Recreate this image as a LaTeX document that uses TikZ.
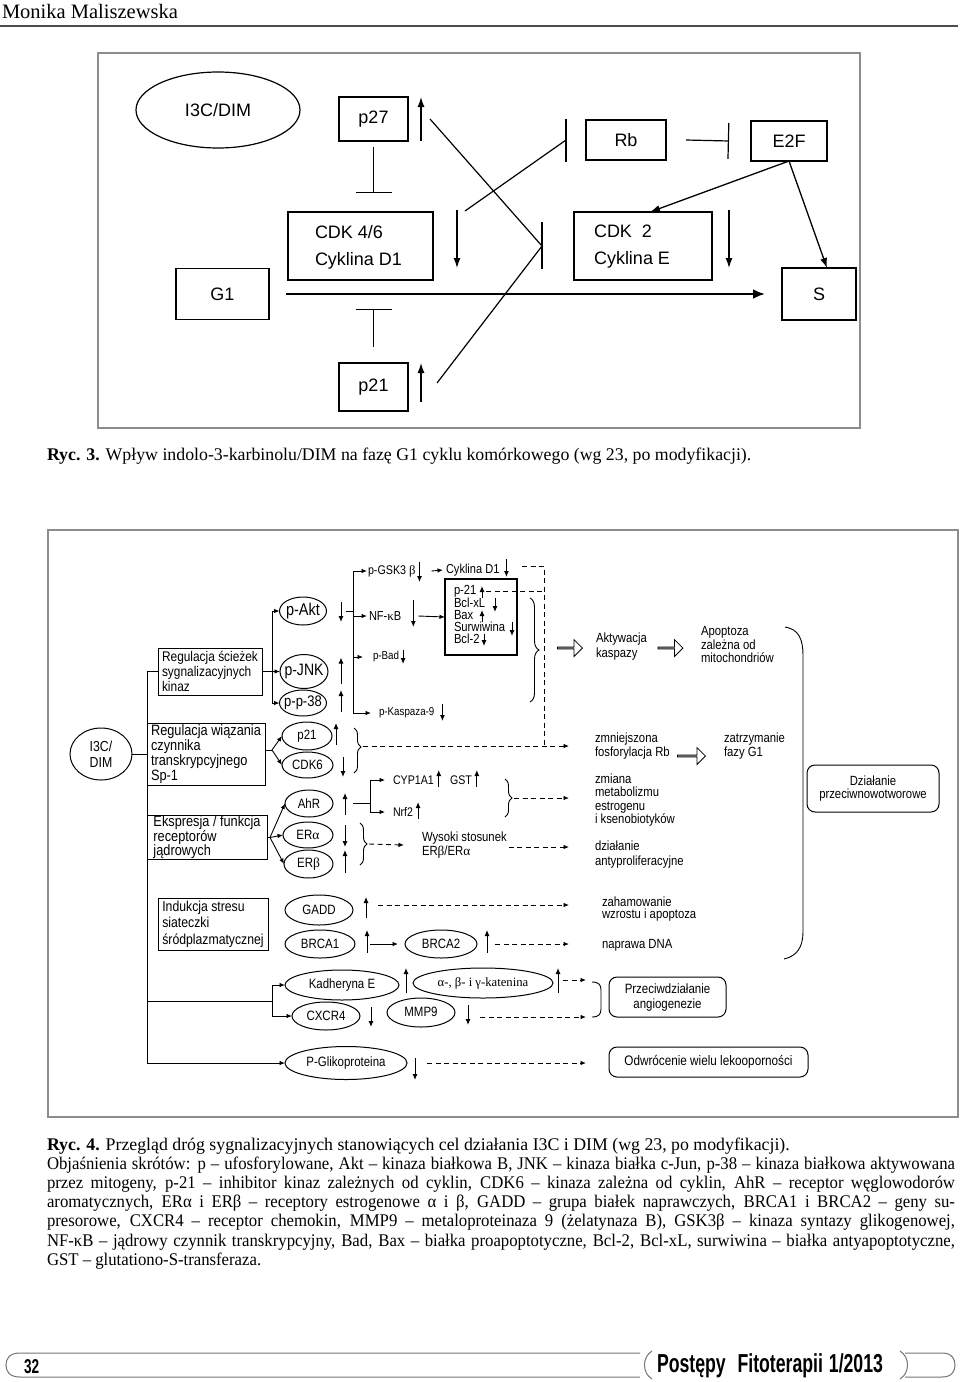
\documentclass[tikz,border=0pt]{standalone}
\usepackage{fontspec}
\setmainfont{Liberation Sans}
\newfontfamily\capf{Liberation Serif}
\newfontfamily\capn[FakeStretch=0.94]{Liberation Serif}
\newfontfamily\nsf[FakeStretch=0.85]{Liberation Sans}
\newfontfamily\footf[FakeStretch=0.68]{Liberation Sans Bold}
\usetikzlibrary{arrows.meta,shapes.geometric,shapes.arrows,decorations.pathreplacing}
\newcommand{\mz}[1]{\makebox[0pt]{#1}}
\newcommand{\fsz}[2]{\fontsize{#1}{#2}\selectfont}
\newcommand{\gr}[1]{{\capf #1}}
\newcommand{\jline}[1]{\makebox[908pt][s]{#1}}
\begin{document}
\begin{tikzpicture}[x=1pt,y=-1pt,
  every node/.style={inner sep=0pt,outer sep=0pt},
  frame/.style={draw=black!45,line width=1.6pt},
  tbox/.style={draw,line width=1.2pt,font=\fsz{18}{27}},
  tln/.style={line width=1.2pt},
  tarr/.style={line width=1.3pt,-{Latex[length=10pt,width=7pt]}},
  tinh/.style={line width=1.2pt,-{Bar[width=36pt]}},
  ln/.style={line width=0.9pt},
  sarr/.style={line width=0.9pt,-{Latex[length=5.5pt,width=4.5pt]}},
  ind/.style={line width=1pt,-{Latex[length=6pt,width=5pt]}},
  dsh/.style={line width=0.9pt,dash pattern=on 5pt off 3.5pt},
  darr/.style={dsh,-{Latex[length=5.5pt,width=4.5pt]}},
  ell/.style={ellipse,draw,line width=1pt,font=\nsf\fsz{13.5}{15}},
  lbox/.style={draw,line width=1pt,align=left,font=\nsf\fsz{15}{15}},
  rbox/.style={draw,line width=1pt,rounded corners=8pt,align=center,font=\nsf\fsz{13.3}{13}},
  txt/.style={align=left,font=\nsf\fsz{13.3}{13}},
  hol/.style={single arrow,draw,line width=0.8pt,minimum height=25pt,minimum width=17pt,single arrow head extend=3.5pt,inner sep=0pt},
  br/.style={decorate,line width=0.9pt},
  foot/.style={draw=black!55,line width=1pt},
  captxt/.style={anchor=base west,font=\capn\fsz{17.8}{19}},
  capone/.style={anchor=base west,font=\capf\fsz{17.8}{19}}
]
\useasboundingbox (0,0) rectangle (960,1382);

% ---------- header ----------
\node[anchor=base west,font=\capf\fsz{20.5}{22}] (hdr) at (2,18) {Monika Maliszewska};
\draw[draw=black!70,line width=2pt] (0,26) -- (958,26);

% ---------- figure 3 ----------
\draw[frame] (98,53) rectangle (860,428);
\node[ellipse,draw,line width=1.2pt,minimum width=164pt,minimum height=76pt,font=\fsz{18}{20}] (i3c) at (218,110) {I3C/DIM};
\node[tbox,minimum width=69pt,minimum height=44pt] (p27) at (373.5,119) {p27};
\node[tbox,minimum width=80pt,minimum height=40pt] (rb) at (626,140) {Rb};
\node[tbox,minimum width=76pt,minimum height=40pt] (e2f) at (789,141) {E2F};
\node[tbox,minimum width=145pt,minimum height=68pt] (cdk46) at (360.5,246) {};
\node[anchor=west,align=left,font=\fsz{18}{27}] (cdk46t) at (315,247) {CDK 4/6\\Cyklina D1};
\node[tbox,minimum width=138pt,minimum height=68pt] (cdk2) at (643,246) {};
\node[anchor=west,align=left,font=\fsz{18}{27}] (cdk2t) at (594,247) {CDK\ \ 2\\Cyklina E};
\node[tbox,minimum width=93pt,minimum height=51pt] (g1) at (222.5,294) {G1};
\node[tbox,minimum width=74pt,minimum height=52pt] (s) at (819,294) {S};
\node[tbox,minimum width=69pt,minimum height=48pt] (p21) at (373.5,387) {p21};

\draw[tarr] ([xshift=13pt]p27.south east) -- ([xshift=13pt]p27.north east);
\draw[tinh] ([yshift=-6pt]p27.south) -- ([yshift=-52pt]p27.south);
\draw[tinh] ([yshift=16pt]p21.north) -- ([yshift=54pt]p21.north);
\draw[tinh] ([xshift=20pt]rb.east) -- ([xshift=-22pt]e2f.west);
\draw[tln] ([xshift=-20pt,yshift=1pt]rb.north west) -- ([xshift=-20pt,yshift=-2pt]rb.south west);
\coordinate (rbbar) at ([xshift=-20pt]rb.west);
\draw[tln] ([xshift=32pt,yshift=1pt]cdk46.north east) -- (rbbar);
\draw[tarr] ([xshift=24pt,yshift=2pt]cdk46.north east) -- ([xshift=24pt,yshift=12pt]cdk46.south east);
\draw[tarr] ([xshift=17pt,yshift=2pt]cdk2.north east) -- ([xshift=17pt,yshift=12pt]cdk2.south east);
\coordinate (conv) at ([xshift=-32pt]cdk2.west);
\draw[tln] ([yshift=24pt]conv) -- ([yshift=-23pt]conv);
\draw[tln] ([xshift=22pt]p27.east) -- (conv);
\draw[tln] ([xshift=29pt,yshift=4pt]p21.east) -- (conv);
\draw[tarr] (e2f.south) -- ([xshift=7pt]cdk2.north);
\draw[tarr] (e2f.south) -- ([xshift=8pt]s.north);
\draw[line width=2.4pt,-{Latex[length=12pt,width=10pt]}] ([xshift=17pt]g1.east) -- ([xshift=-17pt]s.west);
\draw[tarr] ([xshift=13pt,yshift=9pt]p21.south east) -- ([xshift=13pt]p21.north east);

\node[capone] (cap3) at (47,460) {\textbf{Ryc. 3.} Wpływ indolo-3-karbinolu/DIM na fazę G1 cyklu komórkowego (wg 23, po modyfikacji).};

% ---------- figure 4 ----------
\draw[frame,line width=1.2pt] (48,530) rectangle (958,1117);

% upper group
\node[lbox,minimum width=104pt,minimum height=47pt,font=\nsf\fsz{14}{15}] (rsk) at (210,671.5) {Regulacja ścieżek\\sygnalizacyjnych\\kinaz};
\node[ell,minimum width=47pt,minimum height=28pt,font=\nsf\fsz{17}{16}] (pakt) at (303,611) {\mz{p-Akt}};
\node[ell,minimum width=48pt,minimum height=34pt,font=\nsf\fsz{16.5}{16}] (pjnk) at (304,671.5) {\mz{p-JNK}};
\node[ell,minimum width=47pt,minimum height=26pt,font=\nsf\fsz{15.3}{16}] (pp38) at (303,703) {\mz{p-p-38}};
\coordinate (sp1) at (272,671.5);
\draw[ln] (rsk.east) -- (sp1);
\draw[sarr] (sp1) |- (pakt.west);
\draw[sarr] (sp1) -- (pjnk.west);
\draw[sarr] (sp1) |- (pp38.west);
\draw[ind] ([xshift=14.5pt,yshift=9pt]pakt.east) -- ([xshift=14.5pt,yshift=-11pt]pakt.east);
\draw[ind] ([xshift=13pt,yshift=-12pt]pjnk.east) -- ([xshift=13pt,yshift=14pt]pjnk.east);
\draw[ind] ([xshift=14.5pt,yshift=-9pt]pp38.east) -- ([xshift=14.5pt,yshift=13pt]pp38.east);

\node[txt,anchor=west,font=\nsf\fsz{12.6}{13}] (gsk) at (368,571) {p-GSK3 \gr{β}};
\node[txt,anchor=west,font=\nsf\fsz{13}{13}] (cyc) at (446,570) {Cyklina D1};
\node[txt,anchor=west,font=\nsf\fsz{13}{13}] (nfkb) at (369,616) {NF-\gr{κ}B};
\node[txt,anchor=west,font=\nsf\fsz{11.5}{12}] (pbad) at (373,657) {p-Bad};
\node[txt,anchor=west,font=\nsf\fsz{11.5}{12}] (pkasp) at (379,713) {p-Kaspaza-9};
\coordinate (ak) at (353,611);
\draw[ln] ([xshift=19pt]pakt.east) -- (ak);
\draw[sarr] (ak) |- ([xshift=-1pt]gsk.west);
\draw[sarr] (ak) |- ([xshift=-2pt]nfkb.west);
\draw[sarr] (ak) |- ([xshift=-10pt]pbad.west);
\draw[sarr] (ak) |- ([xshift=-8pt]pkasp.west);
\draw[ind] ([xshift=4pt,yshift=9pt]gsk.east) -- ([xshift=4pt,yshift=-11pt]gsk.east);
\draw[sarr] ([xshift=16pt]gsk.east) -- ([xshift=-3pt]cyc.west);
\draw[ind] ([xshift=7pt,yshift=11pt]cyc.east) -- ([xshift=7pt,yshift=-7pt]cyc.east);

\node[draw,line width=1.1pt,minimum width=72pt,minimum height=76pt] (bcl) at (481,617) {};
\node[txt,anchor=north west,font=\nsf\fsz{13.2}{12}] (bclt) at (454,585) {p-21\\Bcl-xL\\Bax\\Surwiwina\\Bcl-2};
\draw[ind] ([xshift=37pt,yshift=-19pt]bcl.north west) -- ([xshift=37pt,yshift=-7pt]bcl.north west);
\draw[ind] ([xshift=50pt,yshift=-19pt]bcl.north west) -- ([xshift=50pt,yshift=-33pt]bcl.north west);
\draw[ind] ([xshift=37pt,yshift=-43pt]bcl.north west) -- ([xshift=37pt,yshift=-31pt]bcl.north west);
\draw[ind] ([xshift=67pt,yshift=-43pt]bcl.north west) -- ([xshift=67pt,yshift=-57pt]bcl.north west);
\draw[ind] ([xshift=39pt,yshift=-55pt]bcl.north west) -- ([xshift=39pt,yshift=-67pt]bcl.north west);
\draw[ind] ([xshift=12pt,yshift=16pt]nfkb.east) -- ([xshift=12pt,yshift=-11pt]nfkb.east);
\draw[sarr] ([xshift=17pt]nfkb.east) -- (bcl.west);
\draw[ind] ([xshift=4pt,yshift=7pt]pbad.east) -- ([xshift=4pt,yshift=-7pt]pbad.east);
\draw[ind] ([xshift=8pt,yshift=9pt]pkasp.east) -- ([xshift=8pt,yshift=-8pt]pkasp.east);

\draw[br,decoration={brace,amplitude=9pt}] (530,598) -- (530,702);
\coordinate (dv) at (544,746);
\coordinate (dtop) at (522,566);
\draw[dsh] (dtop) -| (dv);
\coordinate (p21d) at ([xshift=41pt,yshift=-12pt]bcl.north west);
\draw[dsh] (p21d) -- (p21d -| dv);

\node[hol] (h1) at (569.5,648) {};
\node[hol] (h2) at (670,648) {};
\node[hol,minimum height=28pt] (h3) at (691,756) {};
\node[txt,anchor=west,font=\nsf\fsz{13.3}{15}] (akt) at (596,646.5) {Aktywacja\\kaspazy};
\node[txt,anchor=west,font=\nsf\fsz{13.3}{13.5}] (apo) at (701,644.5) {Apoptoza\\zależna od\\mitochondriów};
\draw[ln] (785,627) .. controls (799,629) and (803,640) .. (803,655) -- (803,932) .. controls (803,947) and (797,956) .. (784,959);

% middle group
\node[ellipse,draw,line width=1pt,minimum width=62pt,minimum height=52pt,align=center,font=\nsf\fsz{14.5}{16}] (i3c2) at (101,754) {I3C/\\DIM};
\coordinate (sp0) at (147,671.5);
\draw[ln] (sp0) -- (rsk.west);
\draw[ln] (i3c2.east) -- (i3c2.east -| sp0);
\node[lbox,minimum width=118pt,minimum height=62pt] (rw) at (206,754) {Regulacja wiązania\\czynnika\\transkrypcyjnego\\Sp-1};
\node[lbox,minimum width=120pt,minimum height=41pt,font=\nsf\fsz{15}{14}] (ex) at (207,837.5) {Ekspresja / funkcja\\receptorów\\jądrowych};

\node[ell,minimum width=50pt,minimum height=28pt] (p21e) at (307,736) {\mz{p21}};
\node[ell,minimum width=51pt,minimum height=26pt] (cdk6e) at (307.5,765) {\mz{CDK6}};
\coordinate (f1) at ([xshift=7pt,yshift=4pt]rw.east);
\draw[ln] ([yshift=4pt]rw.east) -- (f1);
\draw[sarr] (f1) -- (p21e.west);
\draw[sarr] (f1) -- (cdk6e.west);
\draw[ind] ([xshift=4pt,yshift=-9pt]p21e.east) -- ([xshift=4pt,yshift=13pt]p21e.east);
\draw[ind] ([xshift=10pt,yshift=8pt]cdk6e.east) -- ([xshift=10pt,yshift=-12pt]cdk6e.east);
\draw[br,decoration={brace,amplitude=7pt,aspect=0.42}] (354,728) -- (354,773);

\node[txt,anchor=west,font=\nsf\fsz{13.3}{14}] (zmn) at (595,746) {zmniejszona\\fosforylacja Rb};
\node[txt,anchor=west,font=\nsf\fsz{13.3}{14}] (zat) at (724,746) {zatrzymanie\\fazy G1};
\coordinate (b2t) at (363,746);
\draw[darr] (b2t) -- ([xshift=-26pt]zmn.west);

\node[ell,minimum width=48pt,minimum height=27pt] (ahr) at (309,803.5) {\mz{AhR}};
\node[ell,minimum width=50pt,minimum height=26pt] (era) at (308,835) {\mz{ER\gr{α}}};
\node[ell,minimum width=49pt,minimum height=28pt] (erb) at (308.5,864) {\mz{ER\gr{β}}};
\coordinate (f2) at ([xshift=3pt]ex.east);
\draw[ln] (ex.east) -- (f2);
\draw[sarr] (f2) -- (ahr.west);
\draw[sarr] (f2) -- (era.west);
\draw[sarr] (f2) -- (erb.west);
\draw[ind] ([xshift=12pt,yshift=-11.5pt]ahr.east) -- ([xshift=12pt,yshift=10.5pt]ahr.east);
\draw[ind] ([xshift=12pt,yshift=10pt]era.east) -- ([xshift=12pt,yshift=-12pt]era.east);
\draw[ind] ([xshift=12pt,yshift=-9pt]erb.east) -- ([xshift=12pt,yshift=14pt]erb.east);

\node[txt,anchor=west,font=\nsf\fsz{12.5}{13}] (cyp) at (393,780) {CYP1A1};
\node[txt,anchor=west,font=\nsf\fsz{12.5}{13}] (gst) at (450,780) {GST};
\node[txt,anchor=west,font=\nsf\fsz{12.5}{13}] (nrf) at (393,812) {Nrf2};
\coordinate (af) at (370,803.5);
\draw[ln] ([xshift=20pt]ahr.east) -- (af);
\draw[sarr] (af) |- ([xshift=-8pt]cyp.west);
\draw[sarr] (af) |- ([xshift=-8pt]nrf.west);
\draw[ind] ([xshift=5pt,yshift=-7pt]cyp.east) -- ([xshift=5pt,yshift=10pt]cyp.east);
\draw[ind] ([xshift=5pt,yshift=-7pt]gst.east) -- ([xshift=5pt,yshift=10pt]gst.east);
\draw[ind] ([xshift=5pt,yshift=-7pt]nrf.east) -- ([xshift=5pt,yshift=10pt]nrf.east);
\draw[br,decoration={brace,amplitude=7pt}] (505,779) -- (505,817);
\node[txt,anchor=west,font=\nsf\fsz{13.3}{13.3}] (zmi) at (595,800) {zmiana\\metabolizmu\\estrogenu\\i ksenobiotyków};
\coordinate (xr) at (569,0);
\coordinate (b3t) at (514,798);
\draw[darr] (b3t) -- (b3t -| xr);

\draw[br,decoration={brace,amplitude=7pt}] (360,823) -- (360,865);
\node[txt,anchor=west,font=\nsf\fsz{13.3}{14}] (wys) at (422,845) {Wysoki stosunek\\ER\gr{β}/ER\gr{α}};
\coordinate (b4t) at (369,844);
\draw[darr] (b4t) -- ([xshift=-18pt]wys.west);
\node[txt,anchor=west,font=\nsf\fsz{13.3}{15}] (dzi) at (595,854.5) {działanie\\antyproliferacyjne};
\coordinate (wd) at ([xshift=2pt,yshift=-2pt]wys.east);
\draw[darr] (wd) -- (wd -| xr);

\node[rbox,minimum width=132pt,minimum height=47pt] (dp) at (873,788.5) {Działanie\\przeciwnowotworowe};

% lower group
\node[lbox,minimum width=110pt,minimum height=52pt,font=\nsf\fsz{14.4}{16.7}] (ind) at (213,924) {Indukcja stresu\\siateczki\\śródplazmatycznej};
\node[ell,minimum width=68pt,minimum height=30pt] (gadd) at (319,910) {\mz{GADD}};
\node[ell,minimum width=70pt,minimum height=28pt] (brca1) at (320,944) {\mz{BRCA1}};
\node[ell,minimum width=72pt,minimum height=28pt] (brca2) at (441,944) {\mz{BRCA2}};
\node[ell,minimum width=114pt,minimum height=30pt] (kad) at (342,985) {\mz{Kadheryna E}};
\node[ell,minimum width=140pt,minimum height=30pt,font=\capf\fsz{12.7}{13}] (kat) at (483,983) {\mz{α-, β- i γ-katenina}};
\node[ell,minimum width=68pt,minimum height=28pt] (cxcr) at (326,1016) {\mz{CXCR4}};
\node[ell,minimum width=68pt,minimum height=29pt] (mmp) at (421,1012.5) {\mz{\raisebox{2pt}{MMP9}}};
\node[ell,minimum width=122pt,minimum height=33pt] (pgl) at (346,1063) {\mz{P-Glikoproteina}};

\draw[ind] ([xshift=13pt,yshift=-8pt]gadd.east) -- ([xshift=13pt,yshift=13pt]gadd.east);
\draw[ind] ([xshift=12pt,yshift=-9pt]brca1.east) -- ([xshift=12pt,yshift=14pt]brca1.east);
\draw[ind] ([xshift=10pt,yshift=-9pt]brca2.east) -- ([xshift=10pt,yshift=14pt]brca2.east);
\draw[ind] ([xshift=7pt,yshift=-8pt]kad.east) -- ([xshift=7pt,yshift=17pt]kad.east);
\draw[ind] ([xshift=5pt,yshift=-10pt]kat.east) -- ([xshift=5pt,yshift=15pt]kat.east);
\draw[ind] ([xshift=11pt,yshift=9pt]cxcr.east) -- ([xshift=11pt,yshift=-11pt]cxcr.east);
\draw[ind] ([xshift=13pt,yshift=7.5pt]mmp.east) -- ([xshift=13pt,yshift=-12.5pt]mmp.east);
\draw[ind] ([xshift=8pt,yshift=5pt]pgl.east) -- ([xshift=8pt,yshift=-17pt]pgl.east);
\draw[sarr] ([xshift=15pt]brca1.east) -- ([xshift=-7pt]brca2.west);

\node[txt,anchor=west,font=\nsf\fsz{13.3}{12.5}] (zah) at (602,909) {zahamowanie\\wzrostu i apoptoza};
\node[txt,anchor=west] (nap) at (602,945) {naprawa DNA};
\node[rbox,minimum width=117pt,minimum height=40pt,font=\nsf\fsz{13.5}{15}] (pa) at (667.5,997) {Przeciwdziałanie\\angiogenezie};
\node[rbox,minimum width=199pt,minimum height=30pt,font=\nsf\fsz{13.8}{13}] (od) at (708.5,1062) {Odwrócenie wielu lekooporności};

\coordinate (xr2) at (586,0);
\coordinate (gd) at ([xshift=25pt,yshift=5pt]gadd.east);
\draw[darr] (gd) -- (gd -| xr);
\coordinate (b2d) at ([xshift=18pt]brca2.east);
\draw[darr] (b2d) -- (b2d -| xr);
\coordinate (kd) at ([xshift=10pt,yshift=3pt]kat.east);
\draw[darr] (kd) -- (kd -| xr2);
\coordinate (md) at ([xshift=25pt,yshift=-4.5pt]mmp.east);
\draw[darr] (md) -- (md -| xr2);
\coordinate (pd) at ([xshift=20pt]pgl.east);
\draw[darr] (pd) -- (pd -| xr2);
\draw[ln] (592,982) .. controls (599,982) and (601,985) .. (601,990) -- (601,1009) .. controls (601,1014) and (599,1017) .. (592,1017);

\coordinate (kf0) at (147,1001);
\coordinate (kf) at (272,1001);
\draw[ln] (kf0) -- (kf);
\draw[sarr] (kf) |- (kad.west);
\draw[sarr] (kf) |- (cxcr.west);
\draw[sarr] (sp0) |- (pgl.west);

% ---------- caption 4 ----------
\node[capone] (c1) at (47,1150) {\textbf{Ryc. 4.} Przegląd dróg sygnalizacyjnych stanowiących cel działania I3C i DIM (wg 23, po modyfikacji).};
\node[captxt] (c2) at (47,1169.2) {\jline{Objaśnienia skrótów: p – ufosforylowane, Akt – kinaza białkowa B, JNK – kinaza białka c-Jun, p-38 – kinaza białkowa aktywowana}};
\node[captxt] (c3) at (47,1188.4) {\jline{przez mitogeny, p-21 – inhibitor kinaz zależnych od cyklin, CDK6 – kinaza zależna od cyklin, AhR – receptor węglowodorów}};
\node[captxt] (c4) at (47,1207.6) {\jline{aromatycznych, ERα i ERβ – receptory estrogenowe α i β, GADD – grupa białek naprawczych, BRCA1 i BRCA2 – geny su-}};
\node[captxt] (c5) at (47,1226.8) {\jline{presorowe, CXCR4 – receptor chemokin, MMP9 – metaloproteinaza 9 (żelatynaza B), GSK3β – kinaza syntazy glikogenowej,}};
\node[captxt] (c6) at (47,1246) {\jline{NF-κB – jądrowy czynnik transkrypcyjny, Bad, Bax – białka proapoptotyczne, Bcl-2, Bcl-xL, surwiwina – białka antyapoptotyczne,}};
\node[captxt] (c7) at (47,1265.2) {GST – glutationo-S-transferaza.};

% ---------- footer ----------
\draw[foot] (640,1353) -- (20,1353) .. controls (9,1353) and (6,1359) .. (6,1365) .. controls (6,1371) and (9,1377) .. (20,1377) -- (640,1377);
\draw[foot] (652,1351) .. controls (642,1357) and (642,1373) .. (652,1379);
\draw[foot] (900,1351) .. controls (910,1357) and (910,1373) .. (900,1379);
\draw[foot] (905,1353) -- (942,1353) .. controls (952,1353) and (955,1359) .. (955,1365) .. controls (955,1371) and (952,1377) .. (942,1377) -- (905,1377);
\node[anchor=base west,font=\footf\fsz{20}{20}] (pg) at (24,1373) {32};
\node[anchor=base west,font=\footf\fsz{26}{26}] (jn) at (657,1372) {\makebox[226pt][s]{Postępy\ \ Fitoterapii 1/2013}};
\end{tikzpicture}
\end{document}
